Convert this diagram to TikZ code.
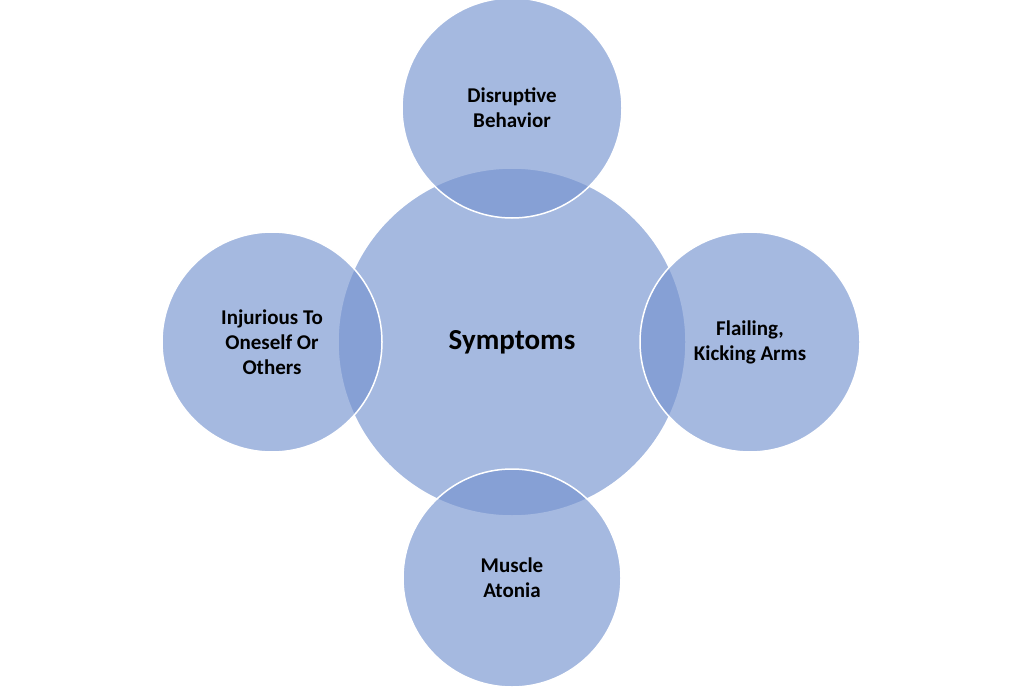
\documentclass[tikz,border=0pt]{standalone}
\usepackage{fontspec}
\setmainfont{Carlito}
\begin{document}
\begin{tikzpicture}[x=1pt,y=-1pt,
  circ/.style={circle,draw=white,line width=1.5pt,fill={rgb,255:red,118;green,148;blue,208},fill opacity=0.65,text opacity=1,align=center,font=\bfseries\fontsize{21}{25}\selectfont,text=black}]
\useasboundingbox (0,0) rectangle (1024,687);
\fill[white] (0,0) rectangle (1024,687);
\node[circ,minimum size=348pt] (c) at (512,342) {};
\node[circ,minimum size=220pt] (t) at (512,108) {Disruptive\\Behavior};
\node[circ,minimum size=218pt] (b) at (512,578) {Muscle\\Atonia};
\node[circ,minimum size=220pt] (l) at (272,342) {Injurious To\\Oneself Or\\Others};
\node[circ,minimum size=220pt] (r) at (750,342) {Flailing,\\Kicking Arms};
\node[font=\bfseries\fontsize{29}{34}\selectfont] (s) at (512,342) {Symptoms};
\end{tikzpicture}
\end{document}
